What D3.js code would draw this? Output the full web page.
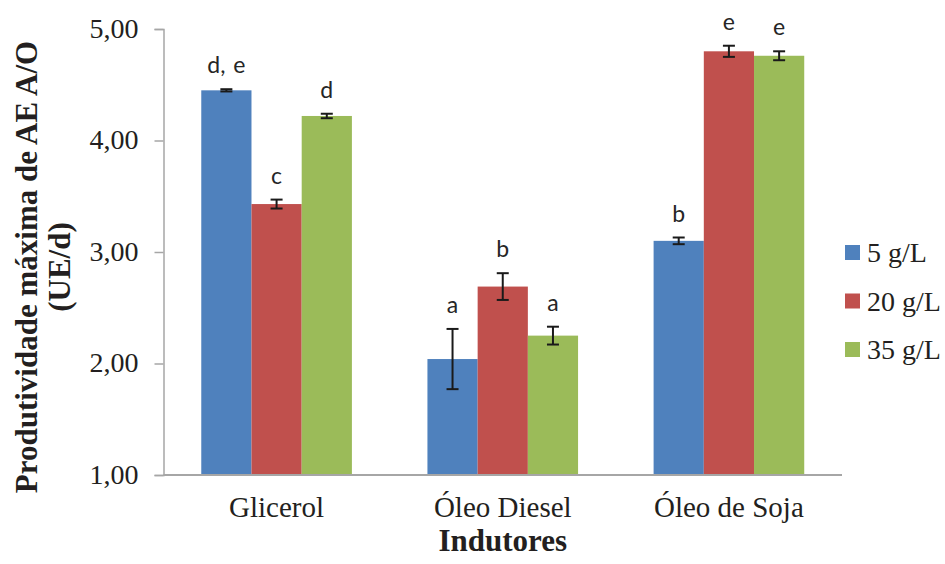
<!DOCTYPE html>
<html>
<head>
<meta charset="utf-8">
<script src="https://cdn.jsdelivr.net/npm/d3@7"></script>
<style>
  html, body { margin: 0; padding: 0; background: #fff; }
  svg { display: block; }
</style>
</head>
<body>
<svg id="chart" width="945" height="564"></svg>
<script>
// Inducers on the x axis, one bar per concentration
const categories = ["Glicerol", "Óleo Diesel", "Óleo de Soja"];
const seriesNames = ["5 g/L", "20 g/L", "35 g/L"];
const seriesColors = ["#4F81BD", "#C0504D", "#9BBB59"];

// Maximum productivity (UE/d), per series across categories
const values5 = [4.45, 2.04, 3.10];
const values20 = [3.43, 2.69, 4.80];
const values35 = [4.22, 2.25, 4.76];

// Standard deviations
const errors5 = [0.01, 0.27, 0.03];
const errors20 = [0.04, 0.12, 0.05];
const errors35 = [0.02, 0.08, 0.04];

// Significance letters
const letters5 = ["d, e", "a", "b"];
const letters20 = ["c", "b", "e"];
const letters35 = ["d", "a", "e"];

const yTicks = [1, 2, 3, 4, 5];

const seriesValues = [values5, values20, values35];
const seriesErrors = [errors5, errors20, errors35];
const seriesLetters = [letters5, letters20, letters35];

const svg = d3.select("#chart");
const plotLeft = 163.5, plotRight = 842, plotTop = 29, plotBottom = 475;

const x = d3.scaleBand().domain(categories).range([plotLeft, plotRight])
  .paddingInner(0.334).paddingOuter(0.167);
const xs = d3.scaleBand().domain(seriesNames).range([0, x.bandwidth()]).padding(0);
const y = d3.scaleLinear().domain([1, 5]).range([plotBottom, plotTop]);

const serif = "'Liberation Serif', 'Times New Roman', serif";
const fmt = d => d3.format(".2f")(d).replace(".", ",");

// Y axis
const yAxis = svg.append("g")
  .attr("transform", `translate(${plotLeft},0)`)
  .call(d3.axisLeft(y).tickValues(yTicks).tickSize(9).tickPadding(16).tickFormat(fmt));
yAxis.select(".domain").attr("stroke", "#a6a6a6").attr("stroke-width", 1.5);
yAxis.selectAll(".tick line").attr("stroke", "#a6a6a6").attr("stroke-width", 1.5);
yAxis.selectAll(".tick text")
  .attr("font-family", serif).attr("font-size", 28).attr("fill", "#231f20")
  .attr("dy", "0.3em");

// Bars
const rows = [];
seriesNames.forEach((s, si) => {
  categories.forEach((c, ci) => {
    rows.push({
      cat: c, series: s, color: seriesColors[si],
      value: seriesValues[si][ci], err: seriesErrors[si][ci], letter: seriesLetters[si][ci]
    });
  });
});

const bars = svg.append("g");
bars.selectAll("rect").data(rows).join("rect")
  .attr("x", d => x(d.cat) + xs(d.series))
  .attr("width", xs.bandwidth())
  .attr("y", d => y(d.value))
  .attr("height", d => y(1) - y(d.value))
  .attr("fill", d => d.color);

// X axis baseline
svg.append("line")
  .attr("x1", plotLeft).attr("x2", plotRight)
  .attr("y1", plotBottom).attr("y2", plotBottom)
  .attr("stroke", "#a6a6a6").attr("stroke-width", 2);

// Error bars
const eb = svg.append("g").attr("stroke", "#1a1a1a").attr("stroke-width", 2);
rows.forEach(d => {
  const cx = x(d.cat) + xs(d.series) + xs.bandwidth() / 2;
  const y1 = y(d.value + d.err), y2 = y(d.value - d.err);
  eb.append("line").attr("x1", cx).attr("x2", cx).attr("y1", y1).attr("y2", y2);
  eb.append("line").attr("x1", cx - 6).attr("x2", cx + 6).attr("y1", y1).attr("y2", y1);
  eb.append("line").attr("x1", cx - 6).attr("x2", cx + 6).attr("y1", y2).attr("y2", y2);
});

// Significance letters
svg.append("g").selectAll("text").data(rows).join("text")
  .attr("x", d => x(d.cat) + xs(d.series) + xs.bandwidth() / 2)
  .attr("y", d => y(d.value + d.err) - 16)
  .attr("text-anchor", "middle")
  .attr("font-family", "Lato, 'Open Sans', sans-serif")
  .attr("font-size", 23)
  .attr("word-spacing", 2)
  .attr("fill", "#262626")
  .text(d => d.letter);

// Category labels
svg.append("g").selectAll("text").data(categories).join("text")
  .attr("x", d => x(d) + x.bandwidth() / 2)
  .attr("y", plotBottom + 42)
  .attr("text-anchor", "middle")
  .attr("font-family", serif).attr("font-size", 29).attr("fill", "#231f20")
  .text(d => d);

// Axis titles
svg.append("text")
  .attr("x", (plotLeft + plotRight) / 2).attr("y", 551)
  .attr("text-anchor", "middle")
  .attr("font-family", serif).attr("font-size", 31).attr("font-weight", "bold").attr("fill", "#231f20")
  .text("Indutores");

const yTitle = svg.append("text")
  .attr("transform", "translate(0,267) rotate(-90)")
  .attr("text-anchor", "middle")
  .attr("font-family", serif).attr("font-size", 31).attr("font-weight", "bold").attr("fill", "#231f20");
yTitle.append("tspan").attr("x", 0).attr("y", 37).text("Produtividade máxima de AE A/O");
yTitle.append("tspan").attr("x", 0).attr("y", 70).text("(UE/d)");

// Legend
const legend = svg.append("g").selectAll("g").data(seriesNames).join("g")
  .attr("transform", (d, i) => `translate(845,${245 + i * 48.5})`);
legend.append("rect").attr("width", 15).attr("height", 15)
  .attr("fill", (d, i) => seriesColors[i]);
legend.append("text").attr("x", 22).attr("y", 17)
  .attr("font-family", serif).attr("font-size", 28).attr("fill", "#231f20")
  .text(d => d);
</script>
</body>
</html>
